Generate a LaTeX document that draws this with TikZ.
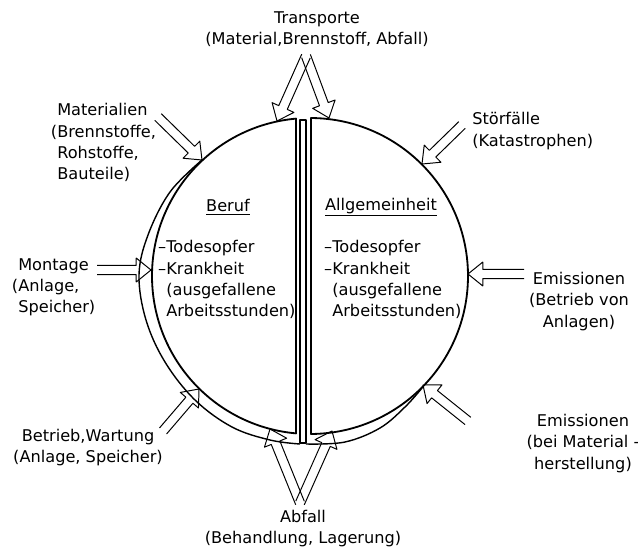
\documentclass[tikz,border=0pt]{standalone}
\usepackage{fontspec}
\setmainfont{DejaVu Sans}
\usetikzlibrary{calc}

\newcommand{\Pfeil}[2]{%
  \draw[Pfeil] let \p1=($(#2)-(#1)$), \n1={atan2(\y1,\x1)}, \n2={veclen(\x1,\y1)} in
    [shift={(#2)}, rotate=\n1]
    ({-\n2*1pt},3.3pt) -- (-10.5pt,3.3pt) -- (-10.5pt,8.5pt) -- (0pt,0pt)
    -- (-10.5pt,-8.5pt) -- (-10.5pt,-3.3pt) -- ({-\n2*1pt},-3.3pt);}

\begin{document}
\begin{tikzpicture}[x=0.025cm, y=-0.025cm, line join=round,
    font=\fontsize{11.5}{15}\selectfont]
                \tikzset{Pfeil/.style={line width=0.7pt},
                         Rand/.style={line width=1.3pt},
                         Band/.style={line width=1pt},
                         every node/.append style={inner sep=0pt}}
                \useasboundingbox (0,0) rectangle (638,552);
                \coordinate (M) at (310,276);

                \draw[Rand] ($(M)+(264.92:158)$) arc[start angle=264.92, end angle=95.08, radius=158] -- cycle;
                \draw[Rand] ($(M)+(-89.64:158)$) arc[start angle=-89.64, end angle=89.64, radius=158] -- cycle;
                \draw[Band] (300,120) rectangle (306,443);
                \draw[Band] plot[smooth, tension=0.6] coordinates {(202,160) (170,192) (148,235) (139,275) (146,320) (165,362) (195,400) (232,427) (270,440) (300,444)};
                \draw[Band] plot[smooth, tension=0.6] coordinates {(306,444) (345,442) (380,428) (405,407) (422,388)};

                \node[align=center] (trans) at (317,29) {Transporte\\(Material,Brennstoff, Abfall)};
                \node[align=left, anchor=west] (mat) at (57,142.5) {Materialien\\\llap{(}Brennstoffe,\\Rohstoffe,\\Bauteile)};
                \node[align=left, anchor=west] (stoer) at (472,131) {Störfälle\\(Katastrophen)};
                \node[align=left, anchor=west] (mont) at (18,287.5) {Montage\\\llap{(}Anlage,\\Speicher)};
                \node[align=center] (emiss) at (579,301.5) {Emissionen\\(Betrieb von\\Anlagen)};
                \node[align=center] (betr) at (88,447.5) {Betrieb,Wartung\\(Anlage, Speicher)};
                \node[align=center] (emissm) at (583,443.5) {Emissionen\\(bei Material -\\herstellung)};
                \node[align=center] (abf) at (303,528.5) {Abfall\\(Behandlung, Lagerung)};
                \node (beruf) at (228,207) {\underline{Beruf}};
                \node (allg) at (381,207) {\underline{Allgemeinheit}};
                \node[align=left, anchor=west] (lberuf) at (166,279.5) {\llap{–}Todesopfer\\\llap{–}Krankheit\\(ausgefallene\\Arbeitsstunden)};
                \node[align=left, anchor=west] (lallg) at (332,279.5) {\llap{–}Todesopfer\\\llap{–}Krankheit\\(ausgefallene\\Arbeitsstunden)};

                \coordinate (transA) at (306,56);
                \coordinate (transL) at (277,121);
                \coordinate (transR) at (329,118);
                \coordinate (matA) at (158,117);
                \coordinate (matE) at (202,160);
                \coordinate (stoerA) at (462,125);
                \coordinate (stoerE) at (422,164);
                \coordinate (montA) at (97,270);
                \coordinate (montE) at (151,270);
                \coordinate (emissA) at (524,274);
                \coordinate (emissE) at (468,274);
                \coordinate (betrA) at (163,431);
                \coordinate (betrE) at (199,389);
                \coordinate (emissmA) at (468,421);
                \coordinate (emissmE) at (423,385);
                \coordinate (abfA) at (300,503);
                \coordinate (abfL) at (270,429);
                \coordinate (abfR) at (332,431);

                \Pfeil{transA}{transL}
                \Pfeil{transA}{transR}
                \Pfeil{matA}{matE}
                \Pfeil{stoerA}{stoerE}
                \Pfeil{montA}{montE}
                \Pfeil{emissA}{emissE}
                \Pfeil{betrA}{betrE}
                \Pfeil{emissmA}{emissmE}
                \Pfeil{abfA}{abfL}
                \Pfeil{abfA}{abfR}

            \end{tikzpicture}
\end{document}
